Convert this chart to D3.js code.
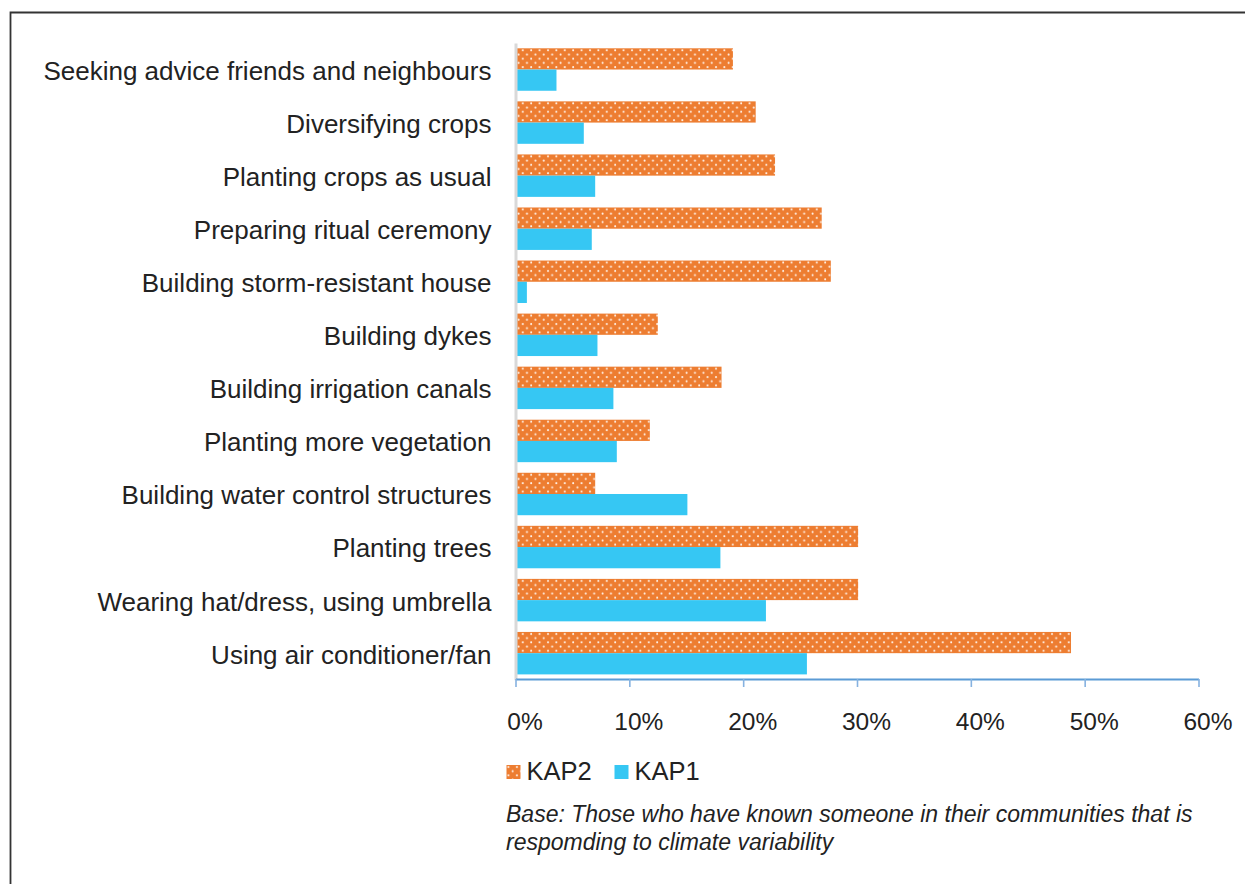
<!DOCTYPE html>
<html>
<head>
<meta charset="utf-8">
<script src="https://cdn.jsdelivr.net/npm/d3@7"></script>
<style>
  body { margin: 0; background: #fff; }
  svg { display: block; font-family: "Liberation Sans", Arial, sans-serif; }
</style>
</head>
<body>
<svg id="chart" width="1245" height="884"></svg>
<script>
const categories = [
    "Seeking advice friends and neighbours",
    "Diversifying crops",
    "Planting crops as usual",
    "Preparing ritual ceremony",
    "Building storm-resistant house",
    "Building dykes",
    "Building irrigation canals",
    "Planting more vegetation",
    "Building water control structures",
    "Planting trees",
    "Wearing hat/dress, using umbrella",
    "Using air conditioner/fan"
];
const kap2 = [19.1, 21.1, 22.8, 26.9, 27.7, 12.5, 18.1, 11.8, 7.0, 30.1, 30.1, 48.8];
const kap1 = [3.6, 6.0, 7.0, 6.7, 1.0, 7.2, 8.6, 8.9, 15.1, 18.0, 22.0, 25.6];
const seriesNames = ["KAP2", "KAP1"];
const xTicks = [0, 10, 20, 30, 40, 50, 60];
const footnote = [
    "Base: Those who have known someone in their communities that is",
    "respomding to climate variability"
];

const orange = "#ed7d31";
const cyan = "#36c7f3";

const svg = d3.select("#chart");

// dotted fill for KAP2
const defs = svg.append("defs");
const pat = defs.append("pattern")
    .attr("id", "dots")
    .attr("patternUnits", "userSpaceOnUse")
    .attr("width", 8.4)
    .attr("height", 8.4);
pat.append("rect").attr("width", 8.4).attr("height", 8.4).attr("fill", orange);
pat.append("circle").attr("cx", 2).attr("cy", 2).attr("r", 1).attr("fill", "#fff3ea");
pat.append("circle").attr("cx", 6.2).attr("cy", 6.2).attr("r", 1).attr("fill", "#fff3ea");

// frame
svg.append("path")
    .attr("d", "M10.5,884 V12.5 H1245")
    .attr("fill", "none")
    .attr("stroke", "#333")
    .attr("stroke-width", 1.8);

const x = d3.scaleLinear()
    .domain([0, 60])
    .range([515.5, 1198.5]);

const y = d3.scaleBand()
    .domain(categories)
    .range([43, 679.7])
    .paddingInner(0.2)
    .paddingOuter(0.1);

const ySub = d3.scaleBand()
    .domain(seriesNames)
    .range([0, y.bandwidth()]);

const rows = categories.map((c, i) => ({ cat: c, KAP2: kap2[i], KAP1: kap1[i] }));

// bars
const groups = svg.append("g")
    .selectAll("g")
    .data(rows)
    .join("g")
    .attr("transform", d => `translate(0,${y(d.cat)})`);

groups.selectAll("rect")
    .data(d => seriesNames.map(s => ({ key: s, value: d[s] })))
    .join("rect")
    .attr("x", x(0) + 1.5)
    .attr("y", d => ySub(d.key))
    .attr("width", d => x(d.value) - x(0) - 1.5)
    .attr("height", ySub.bandwidth())
    .attr("fill", d => d.key === "KAP2" ? "url(#dots)" : cyan);

// left axis with category labels
svg.append("g")
    .attr("transform", `translate(${x(0)},0)`)
    .call(d3.axisLeft(y).tickSize(0).tickPadding(24))
    .call(g => g.select(".domain")
        .attr("stroke", "#d9d9d9")
        .attr("stroke-width", 3))
    .call(g => g.selectAll(".tick text")
        .attr("font-size", "26px")
        .attr("dy", "0.4em")
        .attr("font-family", "Liberation Sans, Arial, sans-serif")
        .attr("fill", "#222"));

// bottom axis
svg.append("g")
    .attr("transform", "translate(0,679)")
    .call(d3.axisBottom(x).tickValues(xTicks).tickSize(8).tickSizeOuter(0).tickFormat(d => d + "%"))
    .call(g => g.select(".domain")
        .attr("stroke", "#5b9bd5")
        .attr("stroke-width", 2))
    .call(g => g.selectAll(".tick line")
        .attr("stroke", "#86b2e0")
        .attr("stroke-width", 1.6))
    .call(g => g.selectAll(".tick text")
        .attr("y", 51)
        .attr("dy", 0)
        .attr("dx", 9)
        .attr("font-size", "24.5px")
        .attr("font-family", "Liberation Sans, Arial, sans-serif")
        .attr("fill", "#222"));

// legend
const legendPos = [506.5, 614.5];
const legend = svg.append("g")
    .selectAll("g")
    .data(seriesNames)
    .join("g")
    .attr("transform", (d, i) => `translate(${legendPos[i]},765)`);
legend.append("rect")
    .attr("width", 14)
    .attr("height", 14)
    .attr("fill", d => d === "KAP2" ? "url(#dots)" : cyan);
legend.append("text")
    .attr("x", 20)
    .attr("y", 14.5)
    .attr("font-size", "25.5px")
    .attr("fill", "#222")
    .text(d => d);

// footnote
svg.append("g")
    .selectAll("text")
    .data(footnote)
    .join("text")
    .attr("x", 506)
    .attr("y", (d, i) => 822 + i * 28)
    .attr("font-size", "23px")
    .attr("font-style", "italic")
    .attr("fill", "#222")
    .text(d => d);
</script>
</body>
</html>
